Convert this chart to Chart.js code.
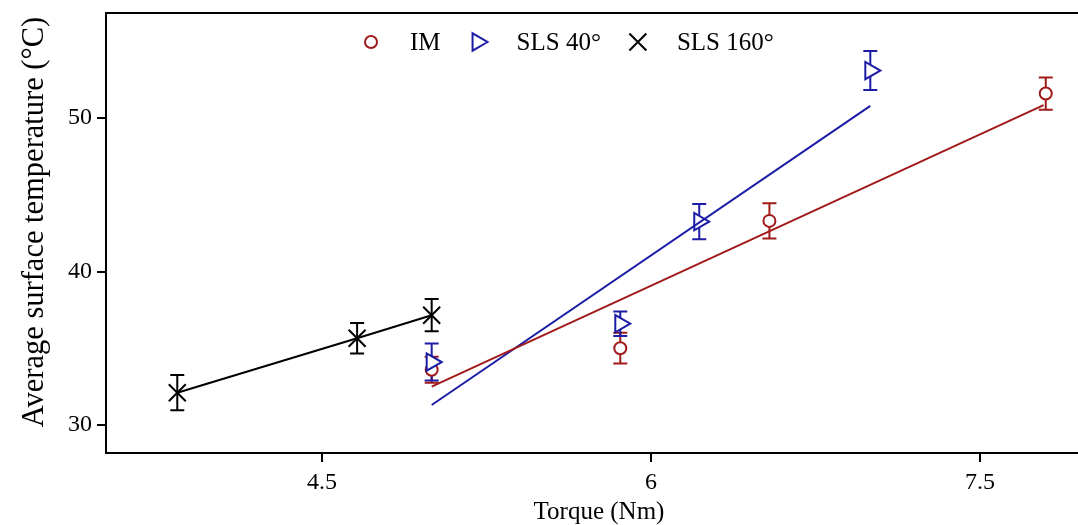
<!DOCTYPE html>
<html>
<head>
<meta charset="utf-8">
<script src="https://cdn.jsdelivr.net/npm/chart.js@4/dist/chart.umd.min.js"></script>
<style>
  html, body { margin: 0; padding: 0; background: #ffffff; }
  #wrap { width: 1078px; height: 525px; position: relative; }
</style>
</head>
<body>
<div id="wrap"><canvas id="c" width="1078" height="525"></canvas></div>
<script>
// Measured series: torque (Nm), average surface temperature (°C), error (±°C)
const imTorque = [5.0, 5.86, 6.54, 7.8];
const imTemp = [33.6, 35.0, 43.3, 51.6];
const imErr = [0.85, 1.0, 1.15, 1.05];

const sls40Torque = [5.0, 5.86, 6.22, 7.0];
const sls40Temp = [34.1, 36.6, 43.25, 53.1];
const sls40Err = [1.2, 0.8, 1.15, 1.27];

const sls160Torque = [3.84, 4.66, 5.0];
const sls160Temp = [32.1, 35.65, 37.15];
const sls160Err = [1.15, 1.0, 1.05];

// Linear trend lines (end points)
const imFitTorque = [5.0, 7.79];
const imFitTemp = [32.5, 50.85];
const sls40FitTorque = [5.0, 7.0];
const sls40FitTemp = [31.3, 50.8];

// Axis ticks
const xTicks = [4.5, 6, 7.5];
const yTicks = [30, 40, 50];

const seriesNames = ['IM', 'SLS 40°', 'SLS 160°'];
const RED = '#a01a1a';
const BLUE = '#1c1ca6';
const BLACK = '#000000';
const FONT = "'Liberation Serif', 'Times New Roman', serif";

const pts = (xs, ys) => xs.map((v, i) => ({ x: v, y: ys[i] }));

const errorSets = [
  { xs: imTorque, ys: imTemp, err: imErr, color: RED },
  { xs: sls40Torque, ys: sls40Temp, err: sls40Err, color: BLUE },
  { xs: sls160Torque, ys: sls160Temp, err: sls160Err, color: BLACK }
];

const legendItems = [
  { text: seriesNames[0], color: RED, style: 'circle', radius: 6, rotation: 0 },
  { text: seriesNames[1], color: BLUE, style: 'triangle', radius: 10, rotation: 90 },
  { text: seriesNames[2], color: BLACK, style: 'crossRot', radius: 12, rotation: 0 }
];

const noPadding = () => ({ left: 0, top: 0, right: 0, bottom: 0 });

function drawMarker(ctx, item, x, y) {
  const opts = { pointStyle: item.style, radius: item.radius, rotation: item.rotation, borderWidth: 2 };
  ctx.strokeStyle = item.color;
  ctx.fillStyle = '#ffffff';
  ctx.lineWidth = 2;
  if (Chart.helpers && Chart.helpers.drawPoint) {
    Chart.helpers.drawPoint(ctx, opts, x, y);
    return;
  }
  ctx.beginPath();
  if (item.style === 'circle') {
    ctx.arc(x, y, item.radius, 0, Math.PI * 2);
    ctx.fill();
  } else if (item.style === 'triangle') {
    const r = item.radius;
    ctx.moveTo(x + r, y);
    ctx.lineTo(x - 0.5 * r, y + 0.866 * r);
    ctx.lineTo(x - 0.5 * r, y - 0.866 * r);
    ctx.closePath();
    ctx.fill();
  } else {
    const d = item.radius * Math.SQRT1_2;
    ctx.moveTo(x - d, y - d); ctx.lineTo(x + d, y + d);
    ctx.moveTo(x + d, y - d); ctx.lineTo(x - d, y + d);
  }
  ctx.stroke();
}

const decorations = {
  id: 'decorations',
  beforeDatasetsDraw(chart) {
    const { ctx, scales: { x, y } } = chart;
    ctx.save();
    ctx.lineWidth = 2;
    errorSets.forEach(s => {
      ctx.strokeStyle = s.color;
      s.xs.forEach((xv, i) => {
        const px = x.getPixelForValue(xv);
        const top = y.getPixelForValue(s.ys[i] + s.err[i]);
        const bot = y.getPixelForValue(s.ys[i] - s.err[i]);
        ctx.beginPath();
        ctx.moveTo(px, top); ctx.lineTo(px, bot);
        ctx.moveTo(px - 7, top); ctx.lineTo(px + 7, top);
        ctx.moveTo(px - 7, bot); ctx.lineTo(px + 7, bot);
        ctx.stroke();
      });
    });
    ctx.restore();
  },
  afterDraw(chart) {
    const { ctx, chartArea } = chart;
    ctx.save();
    // top frame line
    ctx.strokeStyle = BLACK;
    ctx.lineWidth = 2;
    ctx.beginPath();
    ctx.moveTo(chartArea.left, chartArea.top);
    ctx.lineTo(chartArea.right, chartArea.top);
    ctx.stroke();

    // y axis title
    ctx.fillStyle = BLACK;
    ctx.font = "30.5px " + FONT;
    ctx.textAlign = 'center';
    ctx.textBaseline = 'middle';
    ctx.translate(35, 222);
    ctx.rotate(-Math.PI / 2);
    ctx.fillText('Average surface temperature (°C)', 0, 0);
    ctx.setTransform(1, 0, 0, 1, 0, 0);

    // x axis title
    ctx.font = "25px " + FONT;
    ctx.fillText('Torque (Nm)', 599, 512);

    // legend row
    ctx.textAlign = 'left';
    ctx.textBaseline = 'alphabetic';
    let lx = 358;
    const my = 42;
    legendItems.forEach(item => {
      drawMarker(ctx, item, lx + 13, my);
      ctx.fillStyle = BLACK;
      ctx.fillText(item.text, lx + 52, 50);
      lx += 52 + ctx.measureText(item.text).width + 24;
    });
    ctx.restore();
  }
};

new Chart(document.getElementById('c'), {
  type: 'scatter',
  data: {
    datasets: [
      {
        label: 'IM fit', data: pts(imFitTorque, imFitTemp), showLine: true,
        borderColor: RED, borderWidth: 2, pointRadius: 0, order: 0
      },
      {
        label: 'SLS 40° fit', data: pts(sls40FitTorque, sls40FitTemp), showLine: true,
        borderColor: BLUE, borderWidth: 2, pointRadius: 0, order: 0
      },
      {
        label: seriesNames[0], data: pts(imTorque, imTemp), showLine: false,
        pointStyle: 'circle', pointRadius: 6, borderColor: RED, backgroundColor: '#ffffff',
        pointBorderWidth: 2, order: 3
      },
      {
        label: seriesNames[1], data: pts(sls40Torque, sls40Temp), showLine: false,
        pointStyle: 'triangle', pointRotation: 90, pointRadius: 10, borderColor: BLUE,
        backgroundColor: '#ffffff', pointBorderWidth: 2, order: 2
      },
      {
        label: seriesNames[2], data: pts(sls160Torque, sls160Temp), showLine: true,
        pointStyle: 'crossRot', pointRadius: 12, borderColor: BLACK, backgroundColor: BLACK,
        borderWidth: 2, pointBorderWidth: 2, order: 1
      }
    ]
  },
  options: {
    responsive: false,
    animation: false,
    devicePixelRatio: 1,
    layout: { autoPadding: false, padding: { top: 13, left: 0, right: 0, bottom: 0 } },
    plugins: { legend: { display: false }, tooltip: { enabled: false } },
    scales: {
      x: {
        type: 'linear', position: 'bottom', min: 3.515, max: 7.947,
        afterFit: s => {
          s.height = 72;
          s.paddingLeft = 0; s.paddingRight = 0;
          s.getPadding = noPadding;
        },
        afterBuildTicks: s => { s.ticks = xTicks.map(v => ({ value: v })); },
        grid: { display: true, drawOnChartArea: false, drawTicks: true, tickLength: 9, color: BLACK, lineWidth: 2 },
        border: { display: true, color: BLACK, width: 2 },
        ticks: { color: BLACK, padding: 6, font: { family: FONT, size: 24 }, maxRotation: 0 }
      },
      y: {
        type: 'linear', position: 'left', min: 28.17, max: 56.85,
        afterFit: s => {
          s.width = 106;
          s.paddingTop = 0; s.paddingBottom = 0;
          s.getPadding = noPadding;
        },
        afterBuildTicks: s => { s.ticks = yTicks.map(v => ({ value: v })); },
        grid: { display: true, drawOnChartArea: false, drawTicks: true, tickLength: 9, color: BLACK, lineWidth: 2 },
        border: { display: true, color: BLACK, width: 2 },
        ticks: { color: BLACK, padding: 5, font: { family: FONT, size: 24 } }
      }
    }
  },
  plugins: [decorations]
});
</script>
</body>
</html>
